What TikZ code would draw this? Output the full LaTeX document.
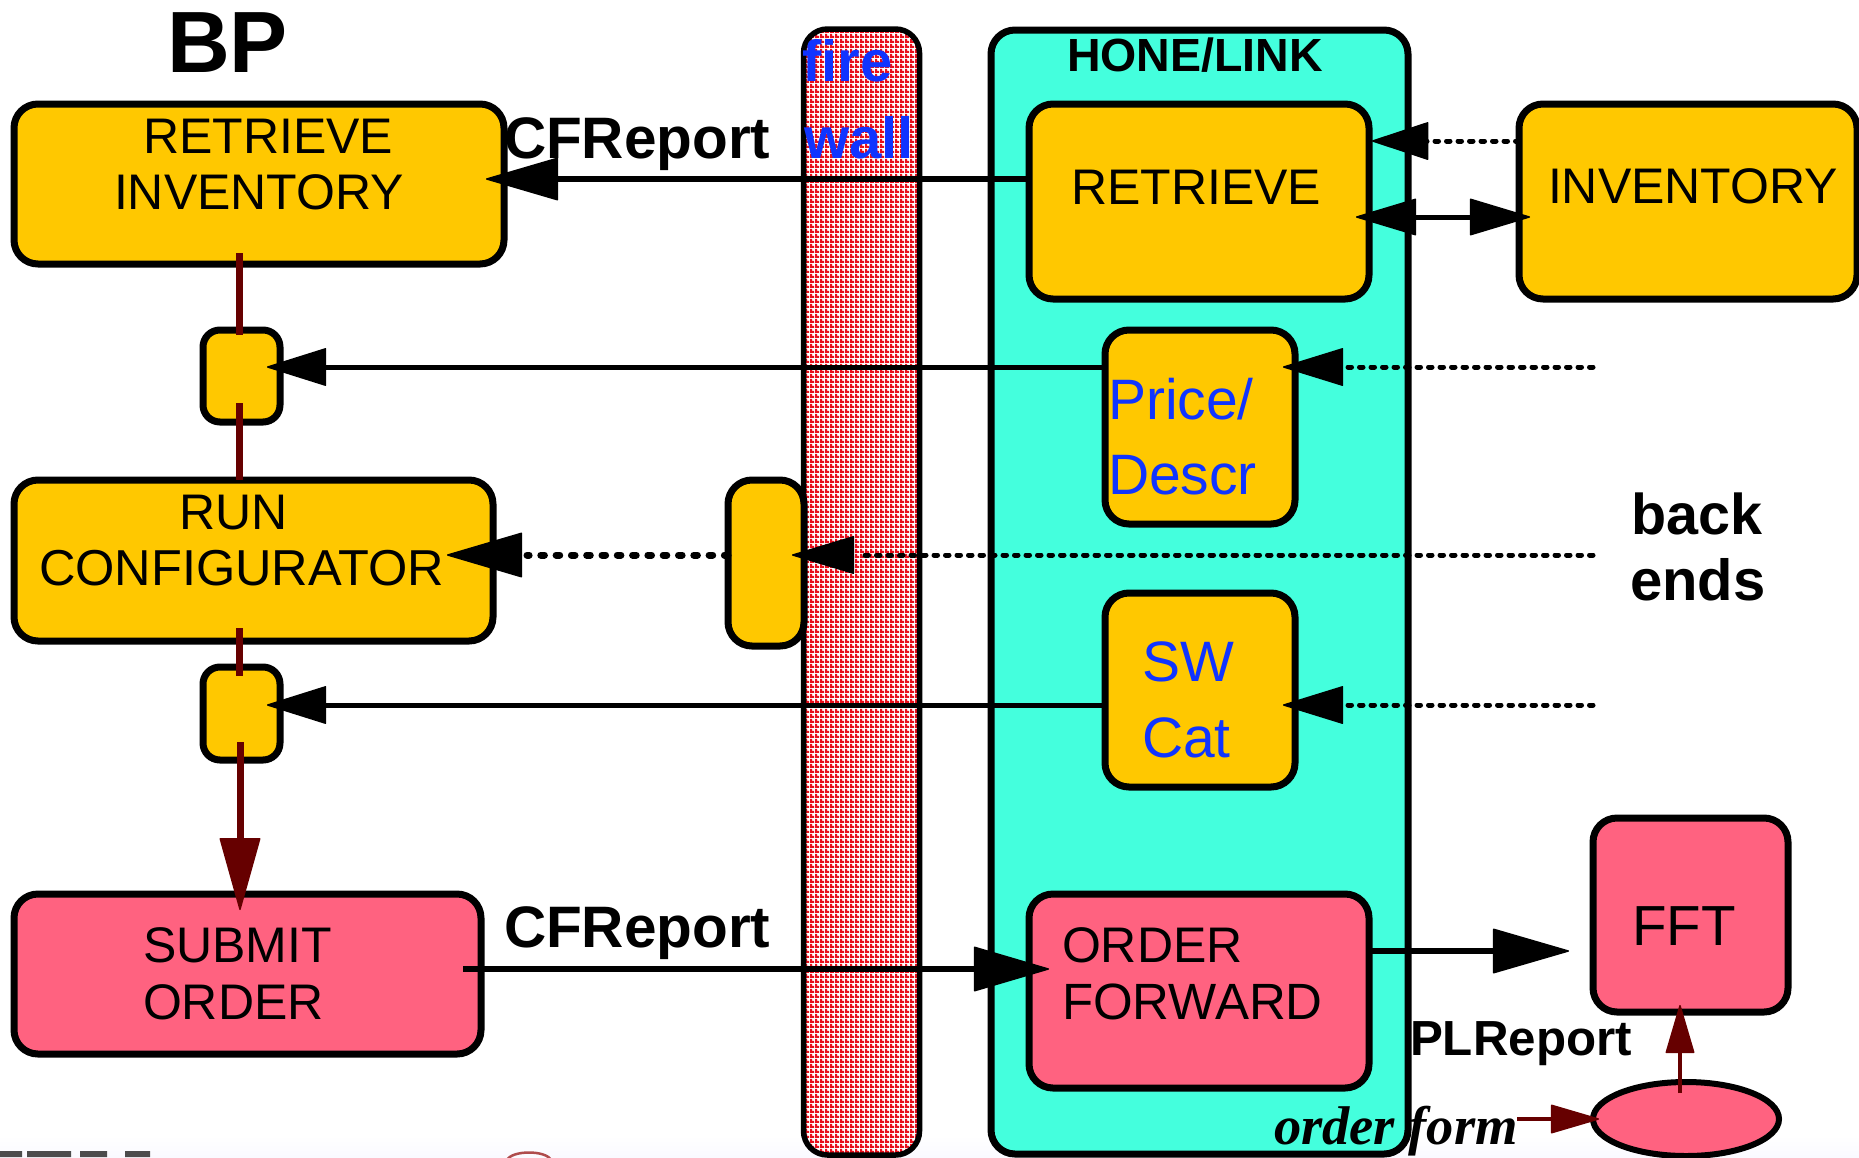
\documentclass[tikz,border=0pt]{standalone}
\usepackage{fontspec}
\setmainfont{Liberation Sans}
\newfontfamily\serifbi[BoldItalicFont={Liberation Serif Bold Italic}]{Liberation Serif}
\usetikzlibrary{arrows.meta,patterns,shapes.geometric,calc}
\definecolor{ylw}{HTML}{FFC800}
\definecolor{pnk}{HTML}{FF6280}
\definecolor{trq}{HTML}{44FFDD}
\definecolor{blu}{HTML}{1034FF}
\definecolor{drd}{HTML}{660000}
\definecolor{fwred}{HTML}{E8101C}
\pgfdeclarepatternformonly{fwgrid}{\pgfpointorigin}{\pgfpoint{5pt}{5pt}}{\pgfpoint{5pt}{5pt}}{%
  \pgfpathrectangle{\pgfpoint{0pt}{0pt}}{\pgfpoint{5pt}{2.4pt}}%
  \pgfpathrectangle{\pgfpoint{0pt}{0pt}}{\pgfpoint{2.4pt}{5pt}}%
  \pgfusepath{fill}}
\newcommand{\fs}[1]{\fontsize{#1}{#1}\selectfont}
\tikzset{
  box/.style={draw=black,line width=7pt,rounded corners=24pt,inner sep=0pt,outer sep=0pt},
  smallbox/.style={box,rounded corners=17pt},
  ybox/.style={box,fill=ylw},
  pbox/.style={box,fill=pnk},
  txt/.style={anchor=base west,inner sep=0pt,outer sep=0pt,text=black},
  lab/.style={txt,font=\fs{50}},
  blab/.style={txt,font=\fs{56}\bfseries},
  blue/.style={txt,text=blu,font=\fs{57}},
  solid6/.style={line width=6.5pt},
  solid4/.style={line width=5pt},
  dotfat/.style={line width=7pt,line cap=round,dash pattern=on 3.6pt off 11.7pt},
  dotthin/.style={line width=5pt,line cap=round,dash pattern=on 3.5pt off 8pt},
  hd/.style 2 args={-{Triangle[length=#1pt,width=#2pt,line width=1.5pt,round]}},
  hdb/.style 2 args={{Triangle[length=#1pt,width=#2pt,line width=1.5pt,round]}-{Triangle[length=#1pt,width=#2pt,line width=1.5pt,round]}},
}
\begin{document}
\begin{tikzpicture}[x=1pt,y=-1pt]
\useasboundingbox (0,0) rectangle (1859,1157);
% faint fade at the bottom edge and cropped remnants
\fill[top color=white,bottom color=black!3!blue!2!white] (0,1135) rectangle (1859,1157);
\fill[black!70] (0,1151) rectangle (22,1157) (27,1151) rectangle (71,1157) (80,1151) rectangle (107,1157) (125,1151) rectangle (150,1157);
\draw[red!55!black!70,line width=2.5pt] (507,1160) .. controls (512,1150) and (546,1150) .. (551,1160);
% containers
\node[box,fill=trq,minimum width=417pt,minimum height=1124pt] (hone) at (1199.5,592) {};
\node[box,preaction={fill=white},pattern=fwgrid,pattern color=fwred,line width=5.5pt,minimum width=116pt,minimum height=1126pt] (fw) at (861.5,592) {};
% boxes
\node[ybox,minimum width=490pt,minimum height=160pt] (ri) at (259,184) {};
\node[ybox,smallbox,minimum width=77pt,minimum height=92pt] (s1) at (241.5,376) {};
\node[ybox,minimum width=479pt,minimum height=161pt] (rc) at (253.5,560.5) {};
\node[ybox,smallbox,minimum width=77pt,minimum height=93pt] (s2) at (241.5,713.5) {};
\node[pbox,minimum width=467pt,minimum height=160pt] (so) at (247.5,974) {};
\node[ybox,minimum width=76pt,minimum height=166pt] (mid) at (766,563) {};
\node[ybox,minimum width=340pt,minimum height=195pt] (rt) at (1199,201.5) {};
\node[ybox,minimum width=338pt,minimum height=195pt] (inv) at (1688,201.5) {};
\node[ybox,minimum width=190pt,minimum height=194pt] (pr) at (1200,427) {};
\node[ybox,minimum width=190pt,minimum height=194pt] (sw) at (1200,690) {};
\node[pbox,minimum width=340pt,minimum height=194pt] (of) at (1199,991) {};
\node[pbox,minimum width=195pt,minimum height=194pt] (fft) at (1690.5,915) {};
\node[draw=black,fill=pnk,line width=6pt,ellipse,inner sep=0pt,minimum width=186pt,minimum height=74pt] (ell) at (1686,1119) {};
% connector ends
\coordinate (c1) at (486,179);
\coordinate (d1a) at (239.5,253); \coordinate (d1b) at (239.5,335);
\coordinate (d2a) at (239.5,403); \coordinate (d2b) at (239.5,480);
\coordinate (d3a) at (239.5,628); \coordinate (d3b) at (239.5,676);
\coordinate (d4a) at (240,742); \coordinate (d4b) at (240,910);
\coordinate (c2) at (267,367);
\coordinate (c3) at (267,705);
\coordinate (c4) at (1372,141);
\coordinate (c5a) at (1356,217); \coordinate (c5b) at (1530,217);
\coordinate (c6a) at (1593,367); \coordinate (c6b) at (1283,367);
\coordinate (c7a) at (1593,705); \coordinate (c7b) at (1283,705);
\coordinate (c8a) at (1593,555); \coordinate (c8b) at (792,555);
\coordinate (c9b) at (447,555);
\coordinate (c10a) at (463,969); \coordinate (c10b) at (1049,969);
\coordinate (c11) at (1569,951);
\coordinate (c12a) at (1680,1093); \coordinate (c12b) at (1680,1005);
\coordinate (c13a) at (1517,1119); \coordinate (c13b) at (1599,1119);
% dark red flow
\draw[drd,line width=7pt] (d1a) -- (d1b);
\draw[drd,line width=7pt] (d2a) -- (d2b);
\draw[drd,line width=7pt] (d3a) -- (d3b);
\draw[drd,line width=7pt,hd={74}{41}] (d4a) -- (d4b);
% black connectors
\draw[solid6,hd={74}{43}] (rt.west |- c1) -- (c1);
\draw[solid4,hd={61}{38}] (pr.west |- c2) -- (c2);
\draw[solid4,hd={61}{38}] (sw.west |- c3) -- (c3);
\draw[dotthin] (inv.west |- c4) -- ++(-92,0);
\draw[solid4,-{Triangle[length=58pt,width=38pt,line width=1.5pt,round]}] (1426,141) -- (c4);
\draw[solid4,hdb={62}{37}] (c5a) -- (c5b);
\draw[dotthin] (c6a) -- ++(-258,0);
\draw[solid4,-{Triangle[length=62pt,width=38pt,line width=1.5pt,round]}] (1342,367) -- (c6b);
\draw[dotthin] (c7a) -- ++(-258,0);
\draw[solid4,-{Triangle[length=62pt,width=38pt,line width=1.5pt,round]}] (1342,705) -- (c7b);
\draw[dotthin] (c8a) -- (860,555);
\draw[solid4,-{Triangle[length=64pt,width=38pt,line width=1.5pt,round]}] (853,555) -- (c8b);
\draw[dotfat] (mid.west |- c8b) -- (527,555);
\draw[solid6,-{Triangle[length=77pt,width=45pt,line width=1.5pt,round]}] (521,555) -- (c9b);
\draw[solid6,hd={77}{45}] (c10a) -- (c10b);
\draw[solid6,hd={78}{45}] (of.east |- c11) -- (c11);
\draw[drd,line width=3.5pt,hd={50}{29}] (c12a) -- (c12b);
\draw[drd,line width=3.5pt,hd={50}{29}] (c13a) -- (c13b);
% texts
\node[txt,font=\fs{87}\bfseries] (tbp) at (167,72) {BP};
\node[lab] (t1a) at (143,153) {RETRIEVE};
\node[lab] (t1b) at (114,209) {INVENTORY};
\node[txt,font=\fs{58.5}\bfseries] (t2) at (504,158) {CFReport};
\node[txt,font=\fs{46.5}\bfseries] (t3) at (1067,71) {HONE/LINK};
\node[txt,text=blu,font=\fs{58}\bfseries] (t4a) at (802,81) {fire};
\node[txt,text=blu,font=\fs{58}\bfseries] (t4b) at (804,158) {wall};
\node[lab] (t5) at (1071,204) {RETRIEVE};
\node[lab] (t6) at (1548,203) {INVENTORY};
\node[blue] (t7a) at (1108,419) {Price/};
\node[blue] (t7b) at (1108,494) {Descr};
\node[lab] (t8a) at (179,529) {RUN};
\node[txt,font=\fs{50.5}] (t8b) at (39,585) {CONFIGURATOR};
\node[blue] (t9a) at (1142,681) {SW};
\node[blue] (t9b) at (1142,757) {Cat};
\node[txt,font=\fs{57.5}\bfseries] (t10a) at (1631,534) {back};
\node[txt,font=\fs{58}\bfseries] (t10b) at (1630,600) {ends};
\node[lab] (t11a) at (143,962) {SUBMIT};
\node[lab] (t11b) at (143,1019) {ORDER};
\node[lab] (t12a) at (1062,962) {ORDER};
\node[txt,font=\fs{51}] (t12b) at (1062,1019) {FORWARD};
\node[txt,font=\fs{58.5}\bfseries] (t13) at (504,947) {CFReport};
\node[txt,font=\fs{56.5}] (t14) at (1632,945) {FFT};
\node[txt,font=\fs{49.3}\bfseries] (t15) at (1410,1055) {PLReport};
\node[txt,font=\serifbi\fs{54.5}\bfseries\itshape] (t16) at (1274,1144) {order form};
\end{tikzpicture}
\end{document}
